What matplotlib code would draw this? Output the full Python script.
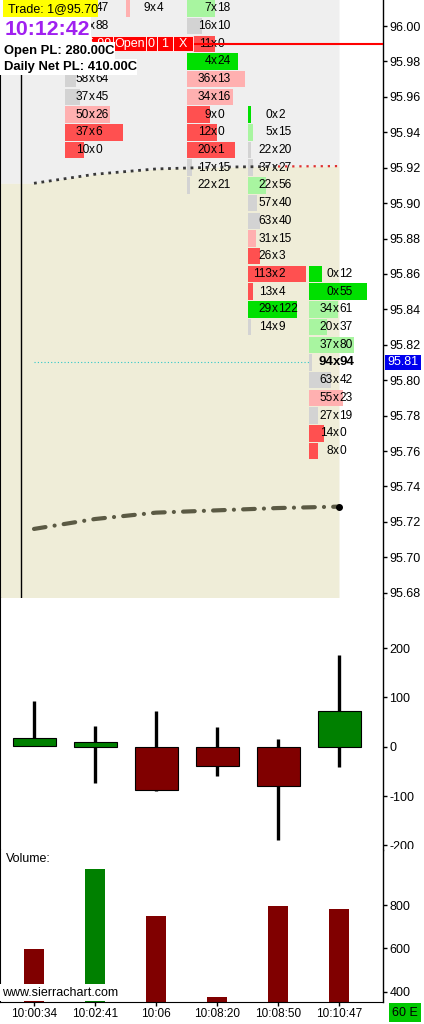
import numpy as np
import matplotlib
matplotlib.use("Agg")
import matplotlib.pyplot as plt
from matplotlib.patches import Rectangle
import matplotlib.transforms as mtransforms

plt.rcParams['font.family'] = ['Liberation Sans', 'DejaVu Sans']
plt.rcParams['axes.unicode_minus'] = False

# Bars:
bar_times = ["10:00:34", "10:02:41", "10:06", "10:08:20", "10:08:50", "10:10:47"]

# Delta candles (ask volume - bid volume):
delta_open = [2, 0, 0, 0, 0, 0]
delta_high = [93, 42, 73, 40, 16, 187]
delta_low = [2, -74, -90, -59, -190, -41]
delta_close = [17, 9, -87, -40, -79, 72]

# Volume pane:
volume = [597, 966, 749, 375, 795, 782]
volume_up = [False, True, False, False, False, False]

# Study lines on the price pane, one value per bar:
upper_line = [95.9112, 95.9163, 95.9193, 95.9203, 95.9207, 95.9209]
lower_line = [95.7160, 95.7216, 95.7252, 95.7265, 95.7278, 95.7286]

last_price = 95.81
order_price = 95.99
session_x = -0.21

# Footprint columns (bid x ask at each price):
col1_bar = 1
col1_price = [96.01, 96.00, 95.97, 95.96, 95.95, 95.94, 95.93]
col1_bid = [40, 80, 58, 37, 50, 37, 10]
col1_ask = [47, 88, 64, 45, 26, 6, 0]

col2_bar = 2
col2_price = [96.02, 96.01]
col2_bid = [84, 9]
col2_ask = [12, 4]

col3_bar = 3
col3_price = [96.01, 96.00, 95.99, 95.98, 95.97, 95.96, 95.95, 95.94, 95.93, 95.92, 95.91]
col3_bid = [7, 16, 11, 4, 36, 34, 9, 12, 20, 17, 22]
col3_ask = [18, 10, 0, 24, 13, 16, 0, 0, 1, 15, 21]

col4_bar = 4
col4_price = [95.95, 95.94, 95.93, 95.92, 95.91, 95.90, 95.89, 95.88, 95.87, 95.86, 95.85, 95.84, 95.83]
col4_bid = [0, 5, 22, 37, 22, 57, 63, 31, 26, 113, 13, 29, 14]
col4_ask = [2, 15, 20, 27, 56, 40, 40, 15, 3, 2, 4, 122, 9]

col5_bar = 5
col5_price = [95.86, 95.85, 95.84, 95.83, 95.82, 95.81, 95.80, 95.79, 95.78, 95.77, 95.76]
col5_bid = [0, 0, 34, 20, 37, 94, 63, 55, 27, 14, 8]
col5_ask = [12, 55, 61, 37, 80, 94, 42, 23, 19, 0, 0]

price_ticks = [95.68, 95.70, 95.72, 95.74, 95.76, 95.78, 95.80, 95.82, 95.84,
               95.86, 95.88, 95.90, 95.92, 95.94, 95.96, 95.98, 96.00]
delta_ticks = [-200, -100, 0, 100, 200]
volume_ticks = [400, 600, 800]

W, H = 424, 1024
X_LEFT, X_RIGHT = -34 / 61, 349 / 61


def rect_px(left, top, right, bottom):
    return [left / W, 1 - bottom / H, (right - left) / W, (bottom - top) / H]


def cell_color(b, a):
    hi, lo = max(b, a), min(b, a)
    ratio = hi / lo if lo > 0 else np.inf
    if ratio < 1.7:
        return '#d3d3d3'
    if b > a:
        return '#ff5050' if ratio > 3.1 else '#ffb0b0'
    return '#00e000' if ratio > 3.1 else '#a8f5a0'


def px_box(x0, y0, x1, y1, color):
    fig.patches.append(Rectangle((x0 / W, 1 - y1 / H), (x1 - x0) / W, (y1 - y0) / H,
                                 transform=fig.transFigure, facecolor=color,
                                 edgecolor='none', zorder=5))


def px_text(x, y, s, **kw):
    fig.text(x / W, 1 - y / H, s, va='center', zorder=6, **kw)


fig = plt.figure(figsize=(W / 100, H / 100), dpi=100)
ax_p = fig.add_axes(rect_px(0, 0, 383, 598))
ax_d = fig.add_axes(rect_px(0, 598, 383, 850))
ax_v = fig.add_axes(rect_px(0, 850, 383, 1002))

for ax in (ax_p, ax_d, ax_v):
    ax.set_xlim(X_LEFT, X_RIGHT)
    ax.yaxis.tick_right()
    ax.tick_params(axis='y', direction='out', length=3, width=1, pad=1.5, labelsize=9)
    ax.spines['top'].set_visible(False)
    ax.spines['bottom'].set_visible(False)
    ax.spines['left'].set_linewidth(1.5)
    ax.spines['right'].set_linewidth(1)
    ax.set_xticks([])

# Price pane:
ax_p.set_ylim(95.6770, 96.0147)
ax_p.set_yticks(price_ticks, ["%.2f" % p for p in price_ticks])

xs = [X_LEFT] + list(range(len(upper_line)))
mid = [upper_line[0]] + upper_line
ax_p.fill_between(xs, mid, 96.1, color='#efefef', lw=0, zorder=0)
ax_p.fill_between(xs, 95.5, mid, color='#efedd8', lw=0, zorder=0)

ax_p.axvline(session_x, color='black', lw=1, zorder=1)

columns = [(col1_bar, col1_price, col1_bid, col1_ask),
           (col2_bar, col2_price, col2_bid, col2_ask),
           (col3_bar, col3_price, col3_bid, col3_ask),
           (col4_bar, col4_price, col4_bid, col4_ask),
           (col5_bar, col5_price, col5_bid, col5_ask)]

for bar_i, prices, bids, asks in columns:
    x0 = bar_i - 0.49
    maxd = max(abs(a - b) for b, a in zip(bids, asks))
    for p, b, a in zip(prices, bids, asks):
        w = max(abs(a - b) / maxd * 0.951, 0.05)
        ax_p.add_patch(Rectangle((x0, p - 0.00465), w, 0.0093, facecolor=cell_color(b, a),
                                 edgecolor='none', zorder=2))
        bold = (bar_i == col5_bar and p == last_price)
        kw = dict(va='center', clip_on=True, zorder=3,
                  fontsize=9.5 if bold else 8.6, fontweight='bold' if bold else 'normal')
        xc = x0 + 0.443
        ax_p.text(xc - 0.052, p, str(b), ha='right', **kw)
        ax_p.text(xc, p, 'x', ha='center', **kw)
        ax_p.text(xc + 0.052, p, str(a), ha='left', **kw)

# Study lines:
n = len(upper_line)
ax_p.plot(range(n - 1), upper_line[:-1], color='#383838', lw=2, ls=(0, (1, 1.7)), zorder=4)
ax_p.plot([n - 2, n - 1], upper_line[-2:], color='#e03030', lw=1.6, ls=(0, (1, 2.2)), zorder=4)
ax_p.plot(range(n), lower_line, color='#5b5a44', lw=3, ls=(0, (2.8, 2.2, 0.01, 2.2)),
          dash_capstyle='round', zorder=4)
ax_p.plot([n - 1], [lower_line[-1]], 'o', color='black', ms=4, zorder=5)

ax_p.hlines(last_price, 0, col5_bar - 0.49, color='#30c8c8', lw=0.8, ls=(0, (1, 2)), zorder=4)

# Order line with its label:
cell_x = [(91 - 34) / 61, (113 - 34) / 61, (146 - 34) / 61, (157 - 34) / 61,
          (173 - 34) / 61, (193 - 34) / 61]
cell_txt = ["95.99", "Open", "0", "1", "X"]
ax_p.hlines(order_price, cell_x[0], X_RIGHT, color='red', lw=1.5, zorder=6)
for i, s in enumerate(cell_txt):
    r = Rectangle((cell_x[i], order_price - 0.0042), cell_x[i + 1] - cell_x[i], 0.0085,
                  facecolor='red', edgecolor='white', lw=0.6, zorder=7)
    ax_p.add_patch(r)
    if i == 0:
        t = ax_p.text(cell_x[1] - 0.02, order_price, s, ha='right', va='center',
                      color='white', fontsize=9, zorder=8)
        t.set_clip_path(r)
    else:
        ax_p.text((cell_x[i] + cell_x[i + 1]) / 2, order_price, s, ha='center', va='center',
                  color='white', fontsize=9, zorder=8)

# Last price label on the scale:
trans = mtransforms.blended_transform_factory(ax_p.transAxes, ax_p.transData)
ax_p.add_patch(Rectangle((385 / 383, last_price - 0.0045), 36 / 383, 0.009, transform=trans,
                         facecolor='#0000ee', edgecolor='none', clip_on=False, zorder=9))
ax_p.text(403 / 383, last_price, "%.2f" % last_price, transform=trans, ha='center',
          va='center', color='white', fontsize=9, clip_on=False, zorder=10)

# Delta pane:
ax_d.set_ylim(-209.5, 301.6)
ax_d.set_yticks(delta_ticks)
for i in range(len(delta_open)):
    ax_d.vlines(i, delta_low[i], delta_high[i], color='black', lw=2.4, zorder=2)
    up = delta_close[i] >= delta_open[i]
    lo = min(delta_open[i], delta_close[i])
    ax_d.add_patch(Rectangle((i - 0.352, lo), 0.705, abs(delta_close[i] - delta_open[i]),
                             facecolor='#008000' if up else '#800000', edgecolor='black',
                             lw=0.8, zorder=3))

# Volume pane:
ax_v.set_ylim(352.4, 1053.8)
ax_v.set_yticks(volume_ticks)
ax_v.bar(range(len(volume)), volume, width=0.328,
         color=['#008000' if u else '#800000' for u in volume_up])
ax_v.spines['bottom'].set_visible(True)
ax_v.set_xticks(range(len(bar_times)), bar_times)
ax_v.tick_params(axis='x', direction='out', length=3, width=1, pad=1.5, labelsize=8.5)
ax_v.text(6 / 383, 1 - 9 / 152, "Volume:", transform=ax_v.transAxes, fontsize=9,
          va='center', ha='left')

# Overlays:
px_box(0, 0, 3, 75, 'white')
px_box(3, 0, 98, 17, '#ffff00')
px_text(8, 9, "Trade: 1@95.70", fontsize=9)
px_box(0, 17, 91, 42, 'white')
px_text(5, 29.5, "10:12:42", fontsize=15.3, fontweight='bold', color='#a020f0')
px_box(0, 42, 115, 59, 'white')
px_text(4, 51, "Open PL: 280.00C", fontsize=9.4, fontweight='bold')
px_box(0, 59, 137, 75, 'white')
px_text(4, 67, "Daily Net PL: 410.00C", fontsize=9.4, fontweight='bold')
px_box(385, 849, 424, 858, 'white')
px_box(0, 984, 121, 1001, 'white')
px_text(2, 992.5, "www.sierrachart.com", fontsize=9)
px_box(389, 1003, 421, 1022, '#00c800')
px_text(405, 1013, "60 E", fontsize=9, ha='center')

fig.savefig("out.png", dpi=100)
